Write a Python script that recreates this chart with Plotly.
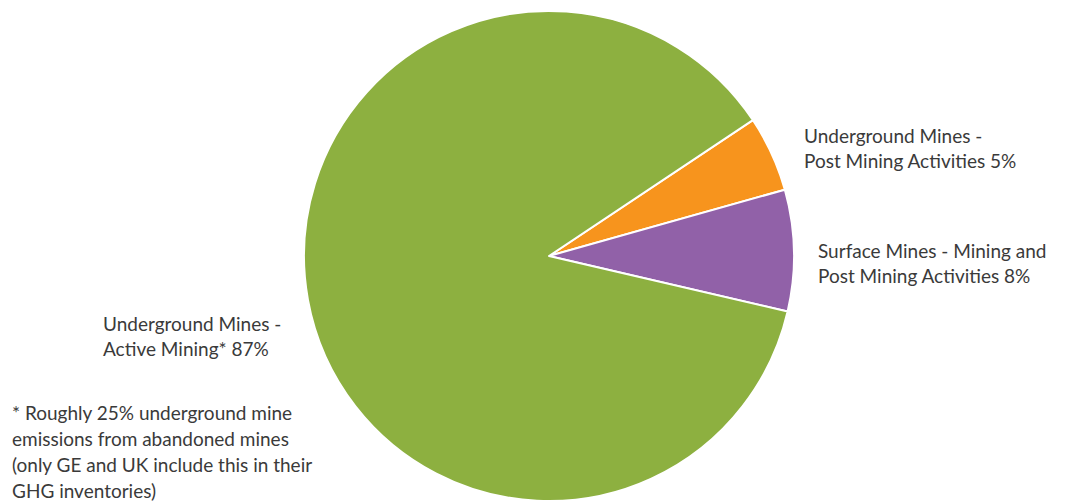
import plotly.graph_objects as go

# Share of coal mine methane emissions by source
categories = [
    "Underground Mines -<br>Post Mining Activities",
    "Surface Mines - Mining and<br>Post Mining Activities",
    "Underground Mines -<br>Active Mining*",
]
shares = [5, 8, 87]
colors = ["#F7941D", "#9161A8", "#8DB040"]
footnote_lines = [
    "* Roughly 25% underground mine",
    "emissions from abandoned mines",
    "(only GE and UK include this in their",
    "GHG inventories)",
]

W, H = 1066, 501
FONT = "Lato"
TEXT_COLOR = "#3a3a3a"
SIZE = 19

fig = go.Figure(go.Pie(
    values=shares,
    labels=[c.replace("<br>", " ") for c in categories],
    marker=dict(colors=colors, line=dict(color="white", width=2)),
    sort=False,
    direction="clockwise",
    rotation=56.3,
    textinfo="none",
    hoverinfo="label+percent",
    domain=dict(x=[304 / W, 794 / W], y=[0, 490 / H]),
    showlegend=False,
))

# label anchors (left edge, top edge) in pixels
label_pos = [(802, 122), (816, 237), (101, 310)]
for cat, val, (px, py) in zip(categories, shares, label_pos):
    fig.add_annotation(
        text=f"{cat} {val}%", x=px / W, y=1 - py / H, xref="paper", yref="paper",
        xanchor="left", yanchor="top", align="left", showarrow=False,
        font=dict(family=FONT, size=SIZE, color=TEXT_COLOR),
    )

# footnote, one line per annotation for even spacing
for i, line in enumerate(footnote_lines):
    fig.add_annotation(
        text=line, x=10 / W, y=1 - (412 + 26 * i) / H, xref="paper", yref="paper",
        xanchor="left", yanchor="middle", align="left", showarrow=False,
        font=dict(family=FONT, size=SIZE, color=TEXT_COLOR),
    )

fig.update_layout(
    width=W, height=H,
    margin=dict(l=0, r=0, t=0, b=0),
    paper_bgcolor="white", plot_bgcolor="white",
)

fig.write_html("out.html")
